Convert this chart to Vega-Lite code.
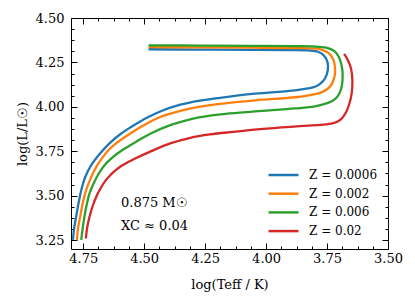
{
  "$schema": "https://vega.github.io/schema/vega-lite/v6.json",
  "width": 317,
  "height": 231,
  "autosize": "none",
  "padding": {"left": 71, "top": 18, "right": 27, "bottom": 57},
  "config": {
    "view": {"stroke": null},
    "font": "DejaVu Serif",
    "axis": {
      "grid": false,
      "domainColor": "black",
      "domainWidth": 1,
      "tickColor": "black",
      "tickWidth": 1,
      "labelFont": "DejaVu Serif",
      "labelFontSize": 13,
      "labelColor": "black",
      "titleFont": "DejaVu Serif",
      "titleFontSize": 13,
      "titleFontWeight": "normal",
      "titleColor": "black",
      "labelFlush": false,
      "labelOverlap": false
    }
  },
  "resolve": {"axis": {"x": "independent", "y": "independent"}},
  "layer": [
    {
      "data": {
        "values": [
          {"Z": "0.0006", "i": 1, "logT": 4.792, "logL": 3.251},
          {"Z": "0.0006", "i": 2, "logT": 4.787, "logL": 3.318},
          {"Z": "0.0006", "i": 3, "logT": 4.779, "logL": 3.381},
          {"Z": "0.0006", "i": 4, "logT": 4.769, "logL": 3.458},
          {"Z": "0.0006", "i": 5, "logT": 4.758, "logL": 3.531},
          {"Z": "0.0006", "i": 6, "logT": 4.742, "logL": 3.604},
          {"Z": "0.0006", "i": 7, "logT": 4.717, "logL": 3.672},
          {"Z": "0.0006", "i": 8, "logT": 4.680, "logL": 3.739},
          {"Z": "0.0006", "i": 9, "logT": 4.639, "logL": 3.799},
          {"Z": "0.0006", "i": 10, "logT": 4.598, "logL": 3.846},
          {"Z": "0.0006", "i": 11, "logT": 4.557, "logL": 3.884},
          {"Z": "0.0006", "i": 12, "logT": 4.516, "logL": 3.918},
          {"Z": "0.0006", "i": 13, "logT": 4.475, "logL": 3.948},
          {"Z": "0.0006", "i": 14, "logT": 4.434, "logL": 3.974},
          {"Z": "0.0006", "i": 15, "logT": 4.352, "logL": 4.012},
          {"Z": "0.0006", "i": 16, "logT": 4.271, "logL": 4.035},
          {"Z": "0.0006", "i": 17, "logT": 4.189, "logL": 4.051},
          {"Z": "0.0006", "i": 18, "logT": 4.045, "logL": 4.074},
          {"Z": "0.0006", "i": 19, "logT": 3.881, "logL": 4.093},
          {"Z": "0.0006", "i": 20, "logT": 3.828, "logL": 4.104},
          {"Z": "0.0006", "i": 21, "logT": 3.799, "logL": 4.113},
          {"Z": "0.0006", "i": 22, "logT": 3.775, "logL": 4.133},
          {"Z": "0.0006", "i": 23, "logT": 3.758, "logL": 4.161},
          {"Z": "0.0006", "i": 24, "logT": 3.747, "logL": 4.206},
          {"Z": "0.0006", "i": 25, "logT": 3.748, "logL": 4.251},
          {"Z": "0.0006", "i": 26, "logT": 3.762, "logL": 4.287},
          {"Z": "0.0006", "i": 27, "logT": 3.787, "logL": 4.310},
          {"Z": "0.0006", "i": 28, "logT": 3.828, "logL": 4.318},
          {"Z": "0.0006", "i": 29, "logT": 3.902, "logL": 4.320},
          {"Z": "0.0006", "i": 30, "logT": 4.066, "logL": 4.321},
          {"Z": "0.0006", "i": 31, "logT": 4.271, "logL": 4.322},
          {"Z": "0.0006", "i": 32, "logT": 4.482, "logL": 4.324},
          {"Z": "0.002", "i": 1, "logT": 4.776, "logL": 3.251},
          {"Z": "0.002", "i": 2, "logT": 4.771, "logL": 3.318},
          {"Z": "0.002", "i": 3, "logT": 4.762, "logL": 3.385},
          {"Z": "0.002", "i": 4, "logT": 4.752, "logL": 3.458},
          {"Z": "0.002", "i": 5, "logT": 4.738, "logL": 3.531},
          {"Z": "0.002", "i": 6, "logT": 4.719, "logL": 3.599},
          {"Z": "0.002", "i": 7, "logT": 4.697, "logL": 3.661},
          {"Z": "0.002", "i": 8, "logT": 4.668, "logL": 3.720},
          {"Z": "0.002", "i": 9, "logT": 4.648, "logL": 3.754},
          {"Z": "0.002", "i": 10, "logT": 4.623, "logL": 3.786},
          {"Z": "0.002", "i": 11, "logT": 4.598, "logL": 3.812},
          {"Z": "0.002", "i": 12, "logT": 4.557, "logL": 3.850},
          {"Z": "0.002", "i": 13, "logT": 4.516, "logL": 3.885},
          {"Z": "0.002", "i": 14, "logT": 4.475, "logL": 3.916},
          {"Z": "0.002", "i": 15, "logT": 4.434, "logL": 3.943},
          {"Z": "0.002", "i": 16, "logT": 4.352, "logL": 3.977},
          {"Z": "0.002", "i": 17, "logT": 4.271, "logL": 4.001},
          {"Z": "0.002", "i": 18, "logT": 4.189, "logL": 4.017},
          {"Z": "0.002", "i": 19, "logT": 4.045, "logL": 4.037},
          {"Z": "0.002", "i": 20, "logT": 3.881, "logL": 4.054},
          {"Z": "0.002", "i": 21, "logT": 3.820, "logL": 4.066},
          {"Z": "0.002", "i": 22, "logT": 3.779, "logL": 4.079},
          {"Z": "0.002", "i": 23, "logT": 3.750, "logL": 4.099},
          {"Z": "0.002", "i": 24, "logT": 3.731, "logL": 4.127},
          {"Z": "0.002", "i": 25, "logT": 3.719, "logL": 4.172},
          {"Z": "0.002", "i": 26, "logT": 3.717, "logL": 4.206},
          {"Z": "0.002", "i": 27, "logT": 3.723, "logL": 4.262},
          {"Z": "0.002", "i": 28, "logT": 3.742, "logL": 4.301},
          {"Z": "0.002", "i": 29, "logT": 3.770, "logL": 4.321},
          {"Z": "0.002", "i": 30, "logT": 3.807, "logL": 4.329},
          {"Z": "0.002", "i": 31, "logT": 3.881, "logL": 4.331},
          {"Z": "0.002", "i": 32, "logT": 4.066, "logL": 4.333},
          {"Z": "0.002", "i": 33, "logT": 4.271, "logL": 4.335},
          {"Z": "0.002", "i": 34, "logT": 4.482, "logL": 4.336},
          {"Z": "0.006", "i": 1, "logT": 4.758, "logL": 3.251},
          {"Z": "0.006", "i": 2, "logT": 4.752, "logL": 3.318},
          {"Z": "0.006", "i": 3, "logT": 4.745, "logL": 3.381},
          {"Z": "0.006", "i": 4, "logT": 4.736, "logL": 3.447},
          {"Z": "0.006", "i": 5, "logT": 4.724, "logL": 3.513},
          {"Z": "0.006", "i": 6, "logT": 4.705, "logL": 3.576},
          {"Z": "0.006", "i": 7, "logT": 4.683, "logL": 3.632},
          {"Z": "0.006", "i": 8, "logT": 4.660, "logL": 3.676},
          {"Z": "0.006", "i": 9, "logT": 4.633, "logL": 3.712},
          {"Z": "0.006", "i": 10, "logT": 4.598, "logL": 3.749},
          {"Z": "0.006", "i": 11, "logT": 4.557, "logL": 3.784},
          {"Z": "0.006", "i": 12, "logT": 4.516, "logL": 3.818},
          {"Z": "0.006", "i": 13, "logT": 4.475, "logL": 3.849},
          {"Z": "0.006", "i": 14, "logT": 4.393, "logL": 3.897},
          {"Z": "0.006", "i": 15, "logT": 4.311, "logL": 3.930},
          {"Z": "0.006", "i": 16, "logT": 4.230, "logL": 3.950},
          {"Z": "0.006", "i": 17, "logT": 4.148, "logL": 3.963},
          {"Z": "0.006", "i": 18, "logT": 4.045, "logL": 3.975},
          {"Z": "0.006", "i": 19, "logT": 3.881, "logL": 3.991},
          {"Z": "0.006", "i": 20, "logT": 3.799, "logL": 4.003},
          {"Z": "0.006", "i": 21, "logT": 3.746, "logL": 4.022},
          {"Z": "0.006", "i": 22, "logT": 3.717, "logL": 4.043},
          {"Z": "0.006", "i": 23, "logT": 3.699, "logL": 4.076},
          {"Z": "0.006", "i": 24, "logT": 3.689, "logL": 4.121},
          {"Z": "0.006", "i": 25, "logT": 3.686, "logL": 4.178},
          {"Z": "0.006", "i": 26, "logT": 3.689, "logL": 4.224},
          {"Z": "0.006", "i": 27, "logT": 3.701, "logL": 4.279},
          {"Z": "0.006", "i": 28, "logT": 3.721, "logL": 4.315},
          {"Z": "0.006", "i": 29, "logT": 3.754, "logL": 4.333},
          {"Z": "0.006", "i": 30, "logT": 3.807, "logL": 4.340},
          {"Z": "0.006", "i": 31, "logT": 3.881, "logL": 4.342},
          {"Z": "0.006", "i": 32, "logT": 4.066, "logL": 4.343},
          {"Z": "0.006", "i": 33, "logT": 4.271, "logL": 4.345},
          {"Z": "0.006", "i": 34, "logT": 4.482, "logL": 4.346},
          {"Z": "0.02", "i": 1, "logT": 4.739, "logL": 3.259},
          {"Z": "0.02", "i": 2, "logT": 4.734, "logL": 3.318},
          {"Z": "0.02", "i": 3, "logT": 4.724, "logL": 3.381},
          {"Z": "0.02", "i": 4, "logT": 4.711, "logL": 3.442},
          {"Z": "0.02", "i": 5, "logT": 4.695, "logL": 3.498},
          {"Z": "0.02", "i": 6, "logT": 4.678, "logL": 3.543},
          {"Z": "0.02", "i": 7, "logT": 4.660, "logL": 3.582},
          {"Z": "0.02", "i": 8, "logT": 4.639, "logL": 3.615},
          {"Z": "0.02", "i": 9, "logT": 4.619, "logL": 3.641},
          {"Z": "0.02", "i": 10, "logT": 4.594, "logL": 3.667},
          {"Z": "0.02", "i": 11, "logT": 4.566, "logL": 3.689},
          {"Z": "0.02", "i": 12, "logT": 4.537, "logL": 3.709},
          {"Z": "0.02", "i": 13, "logT": 4.475, "logL": 3.748},
          {"Z": "0.02", "i": 14, "logT": 4.393, "logL": 3.794},
          {"Z": "0.02", "i": 15, "logT": 4.311, "logL": 3.826},
          {"Z": "0.02", "i": 16, "logT": 4.230, "logL": 3.845},
          {"Z": "0.02", "i": 17, "logT": 4.135, "logL": 3.859},
          {"Z": "0.02", "i": 18, "logT": 3.997, "logL": 3.877},
          {"Z": "0.02", "i": 19, "logT": 3.861, "logL": 3.891},
          {"Z": "0.02", "i": 20, "logT": 3.779, "logL": 3.898},
          {"Z": "0.02", "i": 21, "logT": 3.725, "logL": 3.908},
          {"Z": "0.02", "i": 22, "logT": 3.693, "logL": 3.930},
          {"Z": "0.02", "i": 23, "logT": 3.672, "logL": 3.970},
          {"Z": "0.02", "i": 24, "logT": 3.658, "logL": 4.020},
          {"Z": "0.02", "i": 25, "logT": 3.649, "logL": 4.076},
          {"Z": "0.02", "i": 26, "logT": 3.646, "logL": 4.149},
          {"Z": "0.02", "i": 27, "logT": 3.652, "logL": 4.217},
          {"Z": "0.02", "i": 28, "logT": 3.666, "logL": 4.267},
          {"Z": "0.02", "i": 29, "logT": 3.680, "logL": 4.298}
        ]
      },
      "mark": {"type": "line", "strokeWidth": 2.3, "interpolate": "catmull-rom"},
      "encoding": {
        "x": {
          "field": "logT", "type": "quantitative",
          "scale": {"domain": [3.5, 4.8], "reverse": true, "zero": false, "nice": false},
          "axis": {
            "orient": "bottom",
            "values": [3.5, 3.5625, 3.625, 3.6875, 3.75, 3.8125, 3.875, 3.9375, 4.0, 4.0625, 4.125, 4.1875, 4.25, 4.3125, 4.375, 4.4375, 4.5, 4.5625, 4.625, 4.6875, 4.75],
            "labelExpr": "abs(datum.value*4-round(datum.value*4))<0.001 ? format(datum.value,'.2f') : ''",
            "tickSize": {"condition": {"test": "abs(datum.value*4-round(datum.value*4))<0.001", "value": -6}, "value": -3},
            "labelPadding": 9,
            "title": "log(Teff / K)",
            "titlePadding": 10
          }
        },
        "y": {
          "field": "logL", "type": "quantitative",
          "scale": {"domain": [3.2, 4.5], "zero": false, "nice": false},
          "axis": {
            "orient": "left",
            "values": [3.25, 3.3125, 3.375, 3.4375, 3.5, 3.5625, 3.625, 3.6875, 3.75, 3.8125, 3.875, 3.9375, 4.0, 4.0625, 4.125, 4.1875, 4.25, 4.3125, 4.375, 4.4375, 4.5],
            "labelExpr": "abs(datum.value*4-round(datum.value*4))<0.001 ? format(datum.value,'.2f') : ''",
            "tickSize": {"condition": {"test": "abs(datum.value*4-round(datum.value*4))<0.001", "value": -6}, "value": -3},
            "labelPadding": 13,
            "title": "log(L/L☉)",
            "titlePadding": 6
          }
        },
        "color": {
          "field": "Z", "type": "nominal",
          "scale": {"domain": ["0.0006", "0.002", "0.006", "0.02"], "range": ["#1f77b4", "#ff7f0e", "#2ca02c", "#d62728"]},
          "legend": {
            "orient": "none", "legendX": 206, "legendY": 150.5,
            "title": null,
            "padding": 0,
            "symbolType": "M-3,0H3",
            "symbolSize": 100,
            "symbolStrokeWidth": 2.5,
            "labelOffset": 19,
            "rowPadding": 5.7,
            "labelFont": "DejaVu Serif",
            "labelFontSize": 12,
            "labelColor": "black",
            "labelExpr": "'Z = ' + datum.label"
          }
        },
        "order": {"field": "i", "type": "quantitative"}
      }
    },
    {
      "data": {
        "values": [
          {"logT": 4.595, "logL": 3.458, "label": "0.875 M☉"},
          {"logT": 4.595, "logL": 3.33, "label": "XC ≈ 0.04"}
        ]
      },
      "mark": {"type": "text", "align": "left", "baseline": "middle", "font": "DejaVu Serif", "fontSize": 13, "color": "black"},
      "encoding": {
        "x": {
          "field": "logT", "type": "quantitative",
          "scale": {"domain": [3.5, 4.8], "reverse": true, "zero": false, "nice": false},
          "axis": {
            "orient": "top",
            "values": [3.5, 3.5625, 3.625, 3.6875, 3.75, 3.8125, 3.875, 3.9375, 4.0, 4.0625, 4.125, 4.1875, 4.25, 4.3125, 4.375, 4.4375, 4.5, 4.5625, 4.625, 4.6875, 4.75],
            "labels": false,
            "tickSize": {"condition": {"test": "abs(datum.value*4-round(datum.value*4))<0.001", "value": -6}, "value": -3},
            "title": null
          }
        },
        "y": {
          "field": "logL", "type": "quantitative",
          "scale": {"domain": [3.2, 4.5], "zero": false, "nice": false},
          "axis": {
            "orient": "right",
            "values": [3.25, 3.3125, 3.375, 3.4375, 3.5, 3.5625, 3.625, 3.6875, 3.75, 3.8125, 3.875, 3.9375, 4.0, 4.0625, 4.125, 4.1875, 4.25, 4.3125, 4.375, 4.4375, 4.5],
            "labels": false,
            "tickSize": {"condition": {"test": "abs(datum.value*4-round(datum.value*4))<0.001", "value": -6}, "value": -3},
            "title": null
          }
        },
        "text": {"field": "label", "type": "nominal"}
      }
    }
  ]
}
